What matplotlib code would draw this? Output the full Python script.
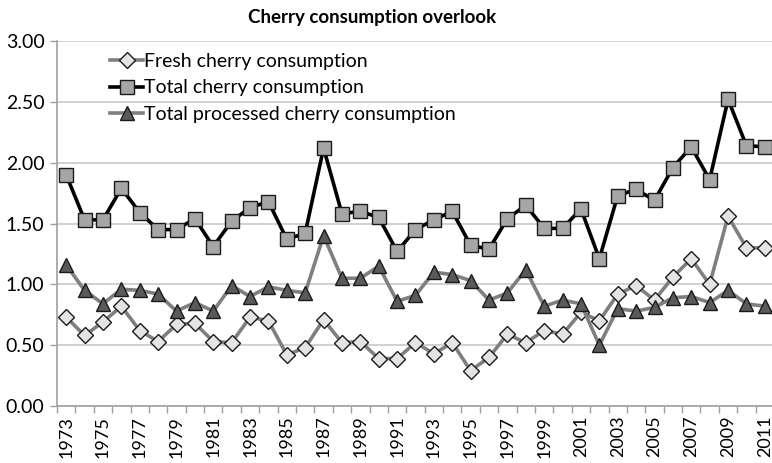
import numpy as np
import matplotlib.pyplot as plt

plt.rcParams['font.family'] = ['Lato', 'DejaVu Sans']

years = list(range(1973, 2012))
fresh = [0.73, 0.58, 0.69, 0.82, 0.62, 0.53, 0.67, 0.68, 0.53, 0.52,
         0.73, 0.70, 0.42, 0.48, 0.71, 0.52, 0.53, 0.39, 0.39, 0.52,
         0.43, 0.52, 0.29, 0.40, 0.59, 0.52, 0.62, 0.59, 0.77, 0.70,
         0.92, 0.99, 0.87, 1.06, 1.21, 1.00, 1.56, 1.30, 1.30]
total = [1.90, 1.53, 1.53, 1.79, 1.59, 1.45, 1.45, 1.54, 1.31, 1.52,
         1.63, 1.68, 1.37, 1.42, 2.12, 1.58, 1.60, 1.55, 1.27, 1.45,
         1.53, 1.60, 1.32, 1.29, 1.54, 1.65, 1.46, 1.46, 1.62, 1.21,
         1.73, 1.78, 1.69, 1.96, 2.13, 1.86, 2.52, 2.14, 2.13]
processed = [1.16, 0.95, 0.84, 0.96, 0.95, 0.92, 0.78, 0.85, 0.78, 0.99,
             0.90, 0.98, 0.95, 0.93, 1.40, 1.05, 1.05, 1.15, 0.86, 0.91,
             1.10, 1.08, 1.03, 0.87, 0.93, 1.12, 0.82, 0.87, 0.84, 0.50,
             0.80, 0.78, 0.81, 0.89, 0.90, 0.85, 0.95, 0.84, 0.82]

x = np.arange(len(years))

fig = plt.figure(figsize=(7.72, 4.63), dpi=100)
ax = fig.add_axes([57 / 772, 1 - 406 / 463, 717 / 772, 365 / 463])

ax.plot(x, fresh, color='#7f7f7f', lw=2.6, marker='D', ms=8,
        mfc='#e4e4e4', mec='#1a1a1a', mew=1.0, label='Fresh cherry consumption', zorder=3)
ax.plot(x, total, color='#000000', lw=2.6, marker='s', ms=9.5,
        mfc='#a6a6a6', mec='#1a1a1a', mew=1.0, label='Total cherry consumption', zorder=4)
ax.plot(x, processed, color='#7f7f7f', lw=2.6, marker='^', ms=9.5,
        mfc='#5a5a5a', mec='#1a1a1a', mew=1.0, label='Total processed cherry consumption', zorder=3)

ax.set_xlim(-0.5, len(years) - 0.5)
ax.set_ylim(0, 3)
ax.set_yticks(np.arange(0, 3.01, 0.5))
ax.set_yticklabels([f'{v:.2f}' for v in np.arange(0, 3.01, 0.5)], fontsize=14)
ax.set_xticks(x[::2])
ax.set_xticklabels([str(y) for y in years[::2]], rotation=90, fontsize=13)
ax.set_xticks(np.arange(-0.5, len(years), 1), minor=True)
ax.tick_params(axis='x', which='major', length=0, pad=7)
ax.tick_params(axis='x', which='minor', length=5, color='#a0a0a0', width=1)
ax.tick_params(axis='y', length=5, color='#a0a0a0', width=1, pad=4)

ax.grid(axis='y', color='#c8c8c8', lw=1.2)
ax.set_axisbelow(True)
for s in ['top', 'right']:
    ax.spines[s].set_visible(False)
for s in ['left', 'bottom']:
    ax.spines[s].set_color('#a0a0a0')
    ax.spines[s].set_linewidth(1.2)

ax.legend(loc='upper left', bbox_to_anchor=(0.058, 1.0), frameon=False, fontsize=14,
          handlelength=1.7, handletextpad=0.05, labelspacing=0.5, borderaxespad=0.2)

fig.text(0.482, 1 - 17 / 463, 'Cherry consumption overlook', ha='center', va='center',
         fontsize=13.5, fontweight='bold')

fig.savefig('out.png', dpi=100)
